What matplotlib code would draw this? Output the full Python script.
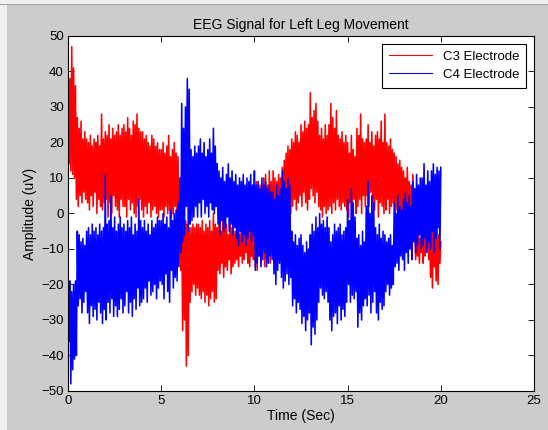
import numpy as np
import matplotlib.pyplot as plt
from matplotlib.patches import Rectangle

# readings: upper swings every 0.1 s (0.0 .. 20.0)
# and lower swings in between (0.05 .. 19.95)
c3_hi = [
    30, 38, 47, 41, 36, 27, 24, 26, 21, 23,
    21, 20, 22, 19, 21, 20, 22, 19, 28, 21,
    23, 22, 25, 21, 24, 22, 23, 25, 22, 24,
    25, 23, 27, 24, 22, 26, 25, 28, 24, 23,
    23, 21, 22, 20, 19, 22, 21, 19, 20, 18,
    18, 20, 17, 19, 22, 16, 18, 20, 17, 16,
    3, -2, -5, -2, -3, -4, -4, -3, -4, -3,
    -3, -4, -2, -5, -3, -4, -2, -5, 0, -3,
    -4, -3, -5, -2, -4, -3, -6, -3, -4, -5,
    -5, -4, -6, -3, -5, -4, -7, -3, -4, -5,
    6, 9, 7, 8, 5, 10, 11, 8, 12, 9,
    12, 10, 9, 11, 10, 13, 15, 17, 19, 18,
    21, 20, 23, 22, 20, 25, 23, 26, 24, 25,
    34, 27, 29, 31, 26, 22, 24, 21, 25, 22,
    25, 31, 27, 24, 29, 22, 21, 23, 20, 22,
    20, 17, 22, 18, 16, 24, 22, 28, 21, 20,
    21, 25, 20, 23, 19, 22, 23, 21, 26, 20,
    28, 20, 19, 21, 18, 17, 16, 14, 15, 13,
    12, 10, 13, 9, 8, 11, -5, -6, -5, -7,
    -5, 5, -7, -4, -6, -4, -5, -6, -4, -6,
    -8,
]
c3_lo = [
    14, 12, 11, 10, 4, 2, 5, 3, 6, 4,
    3, 1, 5, 2, 6, 0, 4, 2, 1, 3,
    4, -1, 3, 0, 5, 2, 1, -1, 4, 2,
    2, -1, 4, 1, 3, 0, -1, 2, 4, 1,
    -1, 2, 0, 3, -1, 1, 2, 0, -1, 1,
    1, -1, 2, 0, 1, -1, 0, 2, -1, -2,
    -16, -33, -30, -43, -40, -25, -22, -20, -23, -21,
    -23, -24, -22, -25, -23, -26, -24, -22, -25, -24,
    -16, -17, -14, -18, -15, -16, -13, -17, -15, -14,
    -13, -15, -12, -14, -13, -11, -14, -15, -12, -13,
    -15, -16, -12, -14, -10, -15, -13, -12, -14, -11,
    -13, -9, -8, -10, -6, -4, -2, -3, -1, 0,
    2, 4, 1, 3, 5, 2, 6, 3, 1, 4,
    7, 5, 3, 6, 2, 1, -1, 2, 0, 1,
    2, 0, 3, 1, 4, 2, 1, 3, 2, 1,
    -1, 3, 1, 4, 0, 2, 4, 0, 5, 2,
    5, 2, 6, 3, 1, 4, -1, 3, 2, 0,
    1, 4, 0, 2, 3, -1, 1, 2, 0, -1,
    1, -1, 2, 0, 1, 2, -13, -12, -14, -11,
    -14, -12, -10, -13, -18, -21, -15, -19, -20, -14,
]
c4_hi = [
    -16, -19, -22, -20, -19, -5, -6, -8, -7, -9,
    -5, -4, -6, -3, -5, -4, -6, -3, -5, -4,
    11, -3, -2, 5, -4, -1, -5, -3, -1, -4,
    -3, -5, -2, -4, -1, -6, -3, -5, 4, -2,
    -4, -2, -5, -3, -6, -2, -4, -3, -1, -2,
    -2, 0, -3, -1, -4, 1, -2, 0, 1, 3,
    10, 31, 24, 30, 38, 35, 18, 16, 19, 17,
    19, 21, 17, 20, 16, 18, 21, 17, 24, 19,
    14, 12, 10, 13, 9, 11, 14, 10, 12, 9,
    11, 8, 10, 9, 11, 8, 10, 9, 11, 8,
    12, 8, 9, 7, 10, 8, 9, 7, 8, 6,
    6, 4, 8, 5, 7, 12, 9, 7, 10, 8,
    -5, -8, -6, -9, -7, -6, -9, -11, -8, -10,
    -6, -3, -5, -1, -4, 0, -3, -2, -4, -1,
    -4, -8, -6, -3, -5, -4, -3, -6, -5, -4,
    4, -2, 7, 3, -1, -7, -6, -9, -5, -8,
    2, 9, 0, 5, 3, -4, -6, -3, -7, -5,
    -6, -8, -7, -6, -9, 3, 0, 5, 2, 1,
    4, 6, 3, 5, 2, 9, 7, 11, 8, 10,
    10, 14, 8, 12, 9, 12, 14, 11, 13, 12,
    13,
]
c4_lo = [
    -36, -48, -44, -41, -40, -26, -24, -28, -25, -22,
    -28, -31, -26, -29, -27, -30, -25, -28, -31, -27,
    -30, -25, -28, -24, -29, -26, -29, -27, -24, -28,
    -26, -22, -28, -25, -29, -24, -27, -21, -26, -25,
    -24, -21, -25, -19, -23, -22, -20, -24, -21, -19,
    -20, -24, -17, -22, -25, -16, -21, -18, -19, -15,
    -11, -8, -6, 2, -5, -3, -2, -1, 2, -1,
    3, -1, 4, 0, 2, -1, 3, 1, 0, 2,
    -3, -6, -2, -5, -4, -1, -5, -3, -6, -4,
    -7, -9, -5, -8, -6, -9, -7, -5, -8, -6,
    -16, -14, -12, -15, -13, -11, -15, -14, -12, -13,
    -17, -20, -16, -14, -18, -21, -19, -17, -20, -18,
    -26, -24, -28, -25, -27, -31, -29, -33, -30, -28,
    -37, -32, -34, -30, -25, -21, -23, -24, -22, -25,
    -30, -33, -29, -28, -31, -26, -30, -27, -29, -25,
    -20, -25, -23, -24, -22, -32, -28, -30, -26, -24,
    -26, -23, -28, -25, -22, -28, -30, -25, -27, -26,
    -22, -20, -23, -21, -20, -15, -14, -16, -12, -13,
    -16, -11, -14, -10, -13, -8, -11, -9, -6, -10,
    -9, -7, -11, -8, -10, -5, -11, -7, -4, -10,
]
half_step = 0.05


def interleave(hi, lo):
    out = np.empty(len(hi) + len(lo))
    out[0::2] = hi
    out[1::2] = lo
    return out


c3 = interleave(c3_hi, c3_lo)
c4 = interleave(c4_hi, c4_lo)
t = np.arange(len(c3)) * half_step

plt.rcParams['font.family'] = ['Liberation Sans', 'DejaVu Sans']
fig = plt.figure(figsize=(5.48, 4.3), dpi=100, facecolor='#cccccc')
# window edges of the screenshot
fig.patches.append(Rectangle((0, 0), 7 / 548, 1, transform=fig.transFigure,
                             facecolor='#f0f0f0', edgecolor='none'))
fig.patches.append(Rectangle((0, 1 - 4 / 430), 1, 4 / 430, transform=fig.transFigure,
                             facecolor='#f0f0f0', edgecolor='none'))
fig.patches.append(Rectangle((0, 1 - 5 / 430), 1, 1.2 / 430, transform=fig.transFigure,
                             facecolor='#a0a0a0', edgecolor='none'))

ax = fig.add_axes([0.1241, 0.0907, 0.8504, 0.8256])
ax.plot(t, c3, color='#ff0000', lw=1.15, label='C3 Electrode')
ax.plot(t, c4, color='#0000ff', lw=1.15, label='C4 Electrode')

ax.set_xlim(0, 25)
ax.set_ylim(-50, 50)
ax.set_xticks(range(0, 26, 5))
ax.set_yticks(range(-50, 51, 10))
ax.tick_params(direction='in', top=True, right=True, labelsize=9.5, length=4, width=0.6, pad=3)
for s in ax.spines.values():
    s.set_linewidth(0.8)
ax.set_title('EEG Signal for Left Leg Movement', fontsize=10, pad=5)
ax.set_xlabel('Time (Sec)', fontsize=10, labelpad=1)
ax.set_ylabel('Amplitude (uV)', fontsize=10, labelpad=3)

leg = ax.legend(loc='upper right', fontsize=9.5, fancybox=False, framealpha=1,
                edgecolor='black', handlelength=3.3, borderaxespad=0.6,
                borderpad=0.5, labelspacing=0.45)
leg.get_frame().set_linewidth(0.8)
for line in leg.get_lines():
    line.set_linewidth(0.8)

fig.savefig('out.png', dpi=100, facecolor=fig.get_facecolor())
